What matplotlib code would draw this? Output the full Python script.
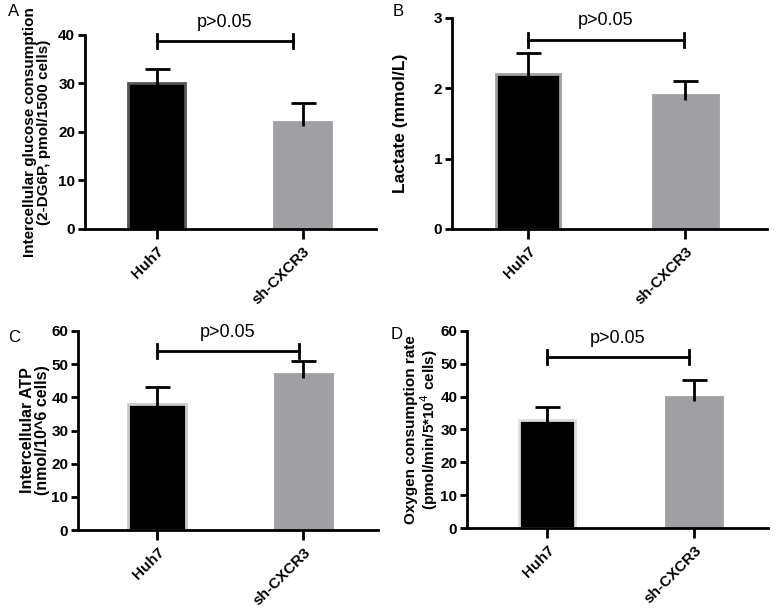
import matplotlib
matplotlib.use("Agg")
import matplotlib.pyplot as plt
import numpy as np

groups = ["Huh7", "sh-CXCR3"]
glucose = [30, 22]
glucose_err = [3, 4]
lactate = [2.2, 1.9]
lactate_err = [0.3, 0.2]
atp = [38, 47]
atp_err = [5, 4]
ocr = [33, 40]
ocr_err = [4, 5]

plt.rcParams['font.family'] = ['Liberation Sans', 'DejaVu Sans']

fig = plt.figure(figsize=(7.76, 6.09), dpi=100)

panels = [
    dict(rect=[0.1095, 0.624, 0.375, 0.3186], vals=glucose, err=glucose_err, ylim=40, yt=[0, 10, 20, 30, 40],
         xlim=(-0.49, 1.5), w=0.39, ylabel="Intercellular glucose consumption\n(2-DG6P, pmol/1500 cells)",
         bary=41, bx=(0, 0.93), letter="A", lpos=(8, 4), edges=["#555555", "#a0a0a4"], lab_off=48, lfs=11),
    dict(rect=[0.5825, 0.624, 0.406, 0.3465], vals=lactate, err=lactate_err, ylim=3, yt=[0, 1, 2, 3],
         xlim=(-0.484, 1.52), w=0.41, ylabel="Lactate (mmol/L)",
         bary=40, bx=(0, 0.99), letter="B", lpos=(393, 4), edges=["#a0a0a0", "#a0a0a4"], lab_off=52, lfs=12.5),
    dict(rect=[0.1005, 0.1297, 0.3866, 0.3268], vals=atp, err=atp_err, ylim=60, yt=[0, 10, 20, 30, 40, 50, 60],
         xlim=(-0.54, 1.51), w=0.39, ylabel="Intercellular ATP\n(nmol/10^6 cells)",
         bary=351, bx=(0, 0.97), letter="C", lpos=(8, 330), edges=["#cccccc", "#a0a0a4"], lab_off=43, lfs=11.5),
    dict(rect=[0.6018, 0.133, 0.388, 0.3235], vals=ocr, err=ocr_err, ylim=60, yt=[0, 10, 20, 30, 40, 50, 60],
         xlim=(-0.544, 1.50), w=0.38, ylabel="Oxygen consumption rate\n(pmol/min/5*10$^{4}$ cells)",
         bary=357, bx=(0, 0.96), letter="D", lpos=(391, 327), edges=["#dddddd", "#a0a0a4"], lab_off=45, lfs=11),
]

H = 609.0
W = 776.0
for p in panels:
    ax = fig.add_axes(p["rect"])
    x = np.arange(len(groups))
    colors = ["black", "#a0a0a4"]
    ax.bar(x, p["vals"], width=p["w"], color=colors, edgecolor=p["edges"], linewidth=2, zorder=2)
    for xi, v, e in zip(x, p["vals"], p["err"]):
        ax.plot([xi, xi], [v - 0.02 * p["ylim"], v + e], color="black", lw=2, zorder=3, solid_capstyle="butt")
        ax.plot([xi], [v + e], marker="_", markersize=18, markeredgewidth=2, color="black", zorder=3)
    ax.set_xlim(*p["xlim"])
    ax.set_ylim(0, p["ylim"])
    ax.set_yticks(p["yt"])
    ax.set_xticks(x)
    ax.set_xticklabels(groups, rotation=45, ha="right", rotation_mode="anchor", fontweight="bold", fontsize=11)
    for lab in ax.get_yticklabels():
        lab.set_fontweight("bold")
        lab.set_fontsize(11)
    for s in ["top", "right"]:
        ax.spines[s].set_visible(False)
    for s in ["left", "bottom"]:
        ax.spines[s].set_linewidth(2)
    ax.tick_params(axis="both", width=2, length=5, direction="out")
    ax.tick_params(axis="x", length=7, pad=4)
    ax.tick_params(axis="y", pad=2)
    ax.set_ylabel(p["ylabel"], fontweight="bold", fontsize=p["lfs"], linespacing=1.0, va="center")
    ax.yaxis.set_label_coords(-p["lab_off"] / (p["rect"][2] * W), 0.5)
    # significance bracket
    bb = ax.get_position()
    ydata = p["ylim"] * ((1 - p["bary"] / H) - bb.y0) / bb.height
    x0, x1 = p["bx"]
    ax.plot([x0, x1], [ydata, ydata], color="black", lw=2, clip_on=False)
    tick = p["ylim"] * 0.035
    for xx in (x0, x1):
        ax.plot([xx, xx], [ydata - tick, ydata + tick], color="black", lw=2, clip_on=False)
    ax.text((x0 + x1) / 2, ydata + p["ylim"] * 0.05, "p>0.05", ha="center", va="bottom", fontsize=13)
    fig.text(p["lpos"][0] / W, 1 - p["lpos"][1] / H, p["letter"], ha="left", va="top", fontsize=12)

fig.savefig("out.png", dpi=100)
